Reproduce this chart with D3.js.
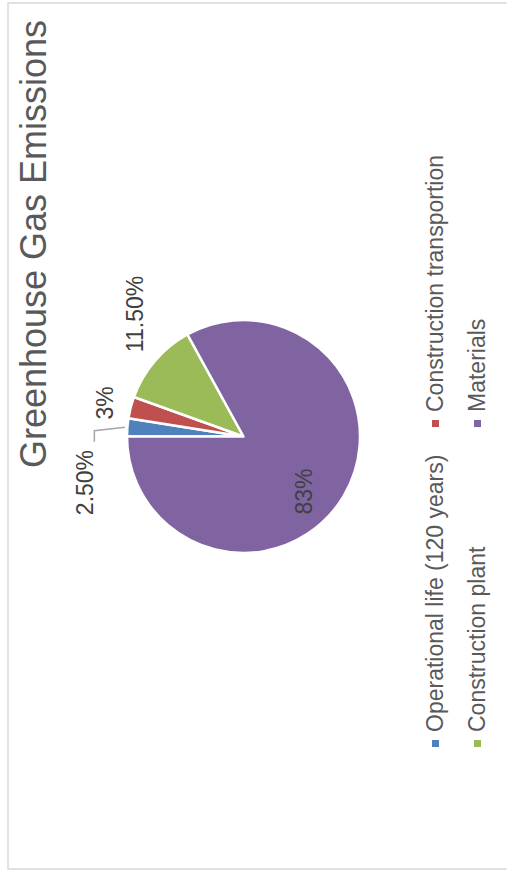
<!DOCTYPE html>
<html>
<head>
<meta charset="utf-8">
<script src="https://cdn.jsdelivr.net/npm/d3@7"></script>
<style>
  body { margin: 0; background: #fff; }
  text { font-family: "Liberation Sans", Arial, sans-serif; }
</style>
</head>
<body>
<div id="my_dataviz"></div>
<script>
// data
const categories = ["Operational life (120 years)", "Construction transportion", "Construction plant", "Materials"];
const values = [2.5, 3, 11.5, 83];
const valueLabels = ["2.50%", "3%", "11.50%", "83%"];
const colors = ["#4F81BD", "#C0504D", "#9BBB59", "#8064A2"];

// label placement (polar, degrees clockwise from 12 o'clock of the unrotated chart)
const labelAngle = [-16.2, 13.6, 48.5, 222.2];
const labelRadius = [165, 142.5, 163.6, 81.8];

// chart is drawn unrotated then turned -90deg onto the page
const W = 866, H = 520;
const radius = 116.5;
const center = {u: 432.5, v: 235.5};

const svg = d3.select("#my_dataviz")
  .append("svg")
  .attr("width", 507)
  .attr("height", 888);

const chart = svg.append("g")
  .attr("transform", "translate(8,869) rotate(-90)");

// chart border
chart.append("rect")
  .attr("x", 0).attr("y", 0)
  .attr("width", W).attr("height", H)
  .attr("fill", "#fff")
  .attr("stroke", "#D9D9D9")
  .attr("stroke-width", 1.5);

// title
chart.append("text")
  .attr("x", 625)
  .attr("y", 38)
  .attr("text-anchor", "middle")
  .style("font-size", "36px")
  .style("fill", "#595959")
  .text("Greenhouse Gas Emissions");

const pie = d3.pie().sort(null).value(d => d)
const arcs = pie(values)
const arc = d3.arc().innerRadius(0).outerRadius(radius)

const g = chart.append("g")
  .attr("transform", `translate(${center.u},${center.v})`);

g.selectAll("path.slice")
  .data(arcs)
  .join("path")
    .attr("class", "slice")
    .attr("d", arc)
    .attr("fill", (d, i) => colors[i])
    .attr("stroke", "#fff")
    .attr("stroke-width", 2.5)
    .attr("stroke-linejoin", "round");

function polar(aDeg, r) {
  const a = aDeg * Math.PI / 180;
  return [r * Math.sin(a), -r * Math.cos(a)];
}

// leader line for the smallest slice
const lp = polar(labelAngle[0], labelRadius[0]);
const mid0 = (arcs[0].startAngle + arcs[0].endAngle) / 2;
const start0 = [119 * Math.sin(mid0), -119 * Math.cos(mid0)];
g.append("path")
  .attr("d", d3.line()([start0, [lp[0] + 51.8, lp[1] + 9.3], [lp[0] + 40.8, lp[1] + 9.3]]))
  .attr("fill", "none")
  .attr("stroke", "#A6A6A6")
  .attr("stroke-width", 1.5);

// data labels
g.selectAll("text.lbl")
  .data(arcs)
  .join("text")
    .attr("class", "lbl")
    .attr("transform", (d, i) => {
      const p = polar(labelAngle[i], labelRadius[i]);
      return `translate(${p[0]},${p[1]})`;
    })
    .attr("dy", "0.36em")
    .attr("text-anchor", "middle")
    .style("font-size", "23px")
    .style("fill", "#404040")
    .text((d, i) => valueLabels[i]);

// legend: two columns, two rows
const legCol = [122, 442];
const legRow = [435, 477];
const legend = chart.selectAll("g.leg")
  .data(categories)
  .join("g")
    .attr("class", "leg")
    .attr("transform", (d, i) => `translate(${legCol[i % 2]},${legRow[Math.floor(i / 2)]})`);

legend.append("rect")
  .attr("x", 0).attr("y", -11)
  .attr("width", 7).attr("height", 7)
  .attr("fill", (d, i) => colors[i]);

legend.append("text")
  .attr("x", 15)
  .attr("y", 0)
  .style("font-size", "23px")
  .style("fill", "#595959")
  .text(d => d);
</script>
</body>
</html>
